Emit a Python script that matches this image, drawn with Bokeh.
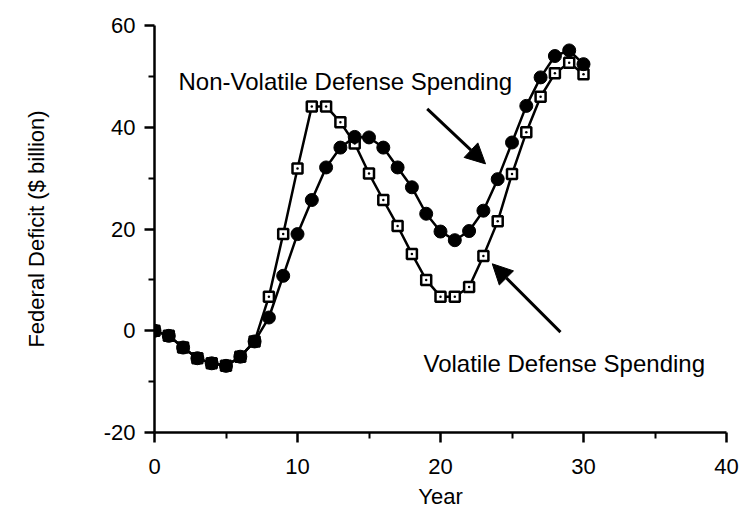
from bokeh.plotting import figure
from bokeh.models import Range1d, FixedTicker, Label, Arrow, NormalHead
from bokeh.embed import file_html
from bokeh.resources import INLINE

years = list(range(31))
non_volatile = [0, -1, -3.3, -5.4, -6.4, -6.9, -5.1, -2.1, 2.6, 10.8, 19, 25.7, 32.1,
                36, 38.1, 38, 36, 32.1, 28.2, 23, 19.5, 17.8, 19.6, 23.6, 29.8, 37,
                44.2, 49.8, 54, 55.1, 52.4]
volatile = [0, -1, -3.3, -5.4, -6.4, -6.9, -5.1, -2.1, 6.7, 19, 31.9, 44.1, 44.1,
            41, 36.8, 30.9, 25.7, 20.6, 15.1, 10, 6.7, 6.7, 8.6, 14.7, 21.5, 30.8,
            39, 46, 50.6, 52.7, 50.4]
x_ticks = [0, 10, 20, 30, 40]
x_minor = [5, 15, 25, 35]
y_ticks = [-20, 0, 20, 40, 60]
y_minor = [-10, 10, 30, 50]
y_tick_labels = ["-20", "0", "20", "40", "60"]
label_nonvol = "Non-Volatile Defense Spending"
label_vol = "Volatile Defense Spending"

FONT = "Liberation Sans"

p = figure(width=742, height=515, output_backend="svg", toolbar_location=None,
           x_range=Range1d(0, 40), y_range=Range1d(-20, 60),
           min_border_left=154, min_border_right=16, min_border_top=25,
           min_border_bottom=83)
p.outline_line_color = None
p.xgrid.visible = False
p.ygrid.visible = False
p.background_fill_color = "white"
p.border_fill_color = "white"

p.xaxis.ticker = FixedTicker(ticks=x_ticks, minor_ticks=x_minor)
p.yaxis.ticker = FixedTicker(ticks=y_ticks, minor_ticks=y_minor)
p.yaxis.major_label_overrides = {t: s for t, s in zip(y_ticks, y_tick_labels)}

for ax in (p.xaxis, p.yaxis):
    ax.axis_line_width = 2.5
    ax.axis_line_color = "black"
    ax.major_tick_line_width = 2.5
    ax.minor_tick_line_width = 2
    ax.major_tick_line_color = "black"
    ax.minor_tick_line_color = "black"
    ax.major_tick_out = 10
    ax.major_tick_in = 0
    ax.minor_tick_out = 6
    ax.minor_tick_in = 0
    ax.major_label_text_font = FONT
    ax.major_label_text_font_size = "22px"
    ax.major_label_text_color = "black"
    ax.axis_label_text_font = FONT
    ax.axis_label_text_font_size = "22px"
    ax.axis_label_text_font_style = "normal"
    ax.axis_label_text_color = "black"

p.xaxis.axis_label = "Year"
p.xaxis.major_label_standoff = 16
p.xaxis.axis_label_standoff = 7
p.yaxis.axis_label = "Federal Deficit ($ billion)"
p.yaxis.major_label_standoff = 9
p.yaxis.axis_label_standoff = 52

# lines
p.line(years, volatile, line_color="black", line_width=2.5)
p.line(years, non_volatile, line_color="black", line_width=2.5)
# markers
p.scatter(years, volatile, marker="square_dot", size=10, fill_color="white",
          line_color="black", line_width=2.5)
p.scatter(years, non_volatile, marker="circle", size=13, fill_color="black",
          line_color="black")

# annotations
p.add_layout(Label(x=1.68, y=48.9, text=label_nonvol, text_font=FONT,
                   text_font_size="24px", text_color="black",
                   text_baseline="alphabetic"))
p.add_layout(Label(x=18.81, y=-6.5, text=label_vol, text_font=FONT,
                   text_font_size="24px", text_color="black",
                   text_baseline="alphabetic"))

p.add_layout(Arrow(end=NormalHead(size=20, fill_color="black", line_color="black"),
                   x_start=19.07, y_start=43.6, x_end=23.15, y_end=32.8,
                   line_width=3, line_color="black"))
p.add_layout(Arrow(end=NormalHead(size=20, fill_color="black", line_color="black"),
                   x_start=28.39, y_start=-0.28, x_end=23.62, y_end=13.16,
                   line_width=3, line_color="black"))

open("out.html", "w").write(file_html(p, INLINE))
